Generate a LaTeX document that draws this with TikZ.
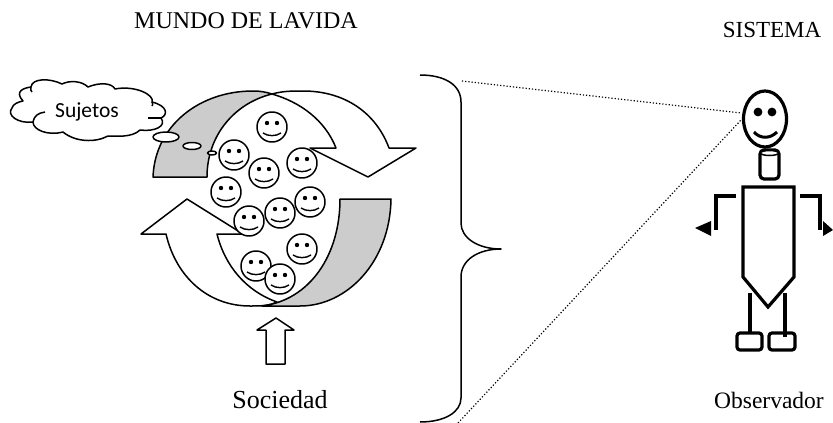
\documentclass[tikz,border=0pt]{standalone}
\usepackage{fontspec}
\setmainfont{Liberation Serif}
\newfontfamily\calfont{Carlito}
\tikzset{
 x=1pt,y=-1pt,
 ln/.style={draw=black,line width=1.5pt,line join=round},
 band/.style={ln,fill=black!20},
 fig/.style={draw=black,line width=3.2pt,line join=miter},
 dots/.style={draw=black,line width=1.2pt,dotted},
 lbl/.style={inner sep=0pt,anchor=center}
}
\newcommand{\smiley}[2]{%
 \begin{scope}[shift={(#1,#2)}]
 \draw[ln,fill=white] (0,0) circle[radius=15];
 \fill (-5,-4) circle[radius=2.2];
 \fill (5,-4) circle[radius=2.2];
 \draw[line width=1.4pt] (-9,6) .. controls (-4,9.5) and (4,9.5) .. (9,6);
 \end{scope}}
\begin{document}
\begin{tikzpicture}
\useasboundingbox (0,0) rectangle (833,423);
% top arrow
\draw[ln,fill=white] (272,94) .. controls (283,91) and (292,91) .. (303,91)
  .. controls (345,91) and (376,113) .. (389,148) -- (416,148) -- (368,177) -- (310,148) -- (336,148)
  .. controls (325,120) and (300,102) .. (272,94) -- cycle;
\draw[band] (153,177) .. controls (155,125) and (200,91) .. (253,91) .. controls (260,91) and (266,92) .. (272,94)
  .. controls (235,103) and (207,135) .. (207,177) -- cycle;
% bottom arrow
\draw[ln,fill=white] (187,199) -- (141,234) -- (166,234)
  .. controls (176,277) and (208,306) .. (250,306) .. controls (258,306) and (265,306) .. (272,304)
  -- (277,302) .. controls (246,291) and (225,266) .. (217,234) -- (243,234) -- cycle;
\draw[band] (340,199) -- (391,199) .. controls (390,262) and (347,306) .. (300,306)
  -- (262,306) .. controls (310,300) and (340,255) .. (340,199) -- cycle;
% faces
\smiley{272}{127}
\smiley{234}{155}
\smiley{264}{173}
\smiley{302}{163}
\smiley{226}{192}
\smiley{249}{221}
\smiley{280}{213}
\smiley{310}{202}
\smiley{302}{249}
\smiley{256}{266}
\smiley{280}{279}
% cloud
\draw[ln,fill=white] (23,101)
  .. controls (14,91) and (24,88) .. (31,87)
  .. controls (32,78) and (50,78) .. (62,84)
  .. controls (70,80) and (82,81) .. (88,87)
  .. controls (100,82) and (112,83) .. (115,89)
  .. controls (135,85) and (155,95) .. (152,102)
  .. controls (168,106) and (168,115) .. (161,118)
  .. controls (167,126) and (155,132) .. (140,130)
  .. controls (132,138) and (115,136) .. (108,136)
  .. controls (95,143) and (75,142) .. (63,132)
  .. controls (48,136) and (33,130) .. (33,122)
  .. controls (18,124) and (6,115) .. (12,108)
  .. controls (13,104) and (18,102) .. (23,101) -- cycle;
\draw[ln] (33,122) .. controls (34,116) and (38,113) .. (45,112);
\draw[ln] (148,118) .. controls (152,118) and (157,118) .. (161,118);
\draw[ln] (152,102) .. controls (153,104) and (153,105) .. (152,106);
\draw[ln] (31,87) .. controls (30,89) and (31,91) .. (32,92);
\node[lbl,font=\calfont\fontsize{21.5}{24}\selectfont] (sujetos) at (87,112) {Sujetos};
\draw[ln,fill=white] (166,137) ellipse[x radius=13,y radius=5];
\draw[ln,fill=white] (192,146) ellipse[x radius=9,y radius=3.5];
\draw[ln,fill=white] (212,153) ellipse[x radius=4.5,y radius=2];
% up arrow
\draw[ln,fill=white] (276,318) -- (294,330) -- (285,330) -- (285,364) -- (266,364) -- (266,330) -- (257,330) -- cycle;
% brace
\draw[ln] (420,75) .. controls (445,75) and (461,85) .. (461,102) -- (461,223)
  .. controls (461,238) and (478,249) .. (501,249)
  .. controls (478,249) and (461,260) .. (461,277) -- (461,398)
  .. controls (461,412) and (445,422) .. (420,422);
% observer
\coordinate (b1) at (462,81);
\coordinate (b2) at (458,423);
\coordinate (e1) at (741,113);
\coordinate (e2) at (741,120);
\draw[dots] (b1) -- (e1);
\draw[dots] (b2) -- (e2);
\draw[fig,fill=white,rounded corners=4pt] (760,150) rectangle (779,179);
\draw[line width=1.5pt,fill=white] (769.5,153) ellipse[x radius=9,y radius=2.5];
\draw[fig] (765,119) ellipse[x radius=21.5,y radius=28];
\fill (758,112) circle[radius=4.4];
\fill (772,112) circle[radius=4.4];
\draw[line width=3pt] (754,132) .. controls (760,139) and (770,139) .. (777,132);
\draw[fig,fill=white] (743,187) -- (794,187) -- (794,277) -- (768,307) -- (743,277) -- cycle;
\draw[fig] (736,196) -- (716,196) -- (716,230);
\draw[fig] (800,196) -- (820,196) -- (820,230);
\fill (695,228) -- (711,221) -- (711,236) -- cycle;
\fill (833,230) -- (823,221) -- (823,236) -- cycle;
\draw[fig] (750,293) -- (750,333);
\draw[fig] (785,293) -- (785,337);
\draw[fig,rounded corners=3pt] (737,333) rectangle (762,350);
\draw[fig,rounded corners=3pt] (769,333) rectangle (795,350);
% labels
\node[lbl,font=\fontsize{24}{27}\selectfont] (mundo) at (246,21) {MUNDO DE LAVIDA};
\node[lbl,font=\fontsize{23}{26}\selectfont] (sistema) at (772,30) {SISTEMA};
\node[lbl,font=\fontsize{26}{29}\selectfont] (sociedad) at (280,400) {Sociedad};
\node[lbl,font=\fontsize{23.5}{26}\selectfont] (observador) at (769,400) {Observador};
\end{tikzpicture}
\end{document}
